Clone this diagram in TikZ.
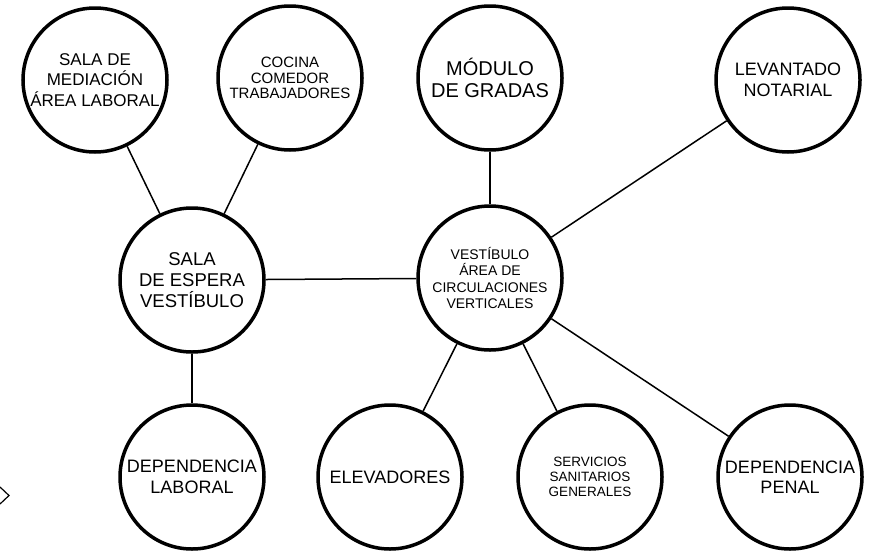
\documentclass[tikz,border=0pt]{standalone}
\usepackage{fontspec}
\setmainfont{Liberation Sans}
\usepackage{tikz}
\tikzset{
  espacio/.style={circle,draw,line width=3.5pt,minimum size=144pt,inner sep=0pt,align=center,text=black},
  enlace/.style={line width=1.5pt}
}
\def\letragrande{\fontsize{18}{20.5}\selectfont}
\def\letramedia{\fontsize{17}{20.5}\selectfont}
\def\letrachica{\fontsize{13.5}{15}\selectfont}

\begin{document}
\begin{tikzpicture}[x=1pt,y=-1pt]
   \useasboundingbox (0,0) rectangle (869,552);
      \node[espacio,font=\letramedia] (mediacion) at (95,80) {SALA DE\\ MEDIACIÓN\\ ÁREA LABORAL};
      \node[espacio,font=\fontsize{15}{15.5}\selectfont] (cocina) at (290,78) {COCINA\\ COMEDOR\\ TRABAJADORES};
      \node[espacio,font=\fontsize{20}{21.5}\selectfont] (gradas) at (490,78) {MÓDULO\\ DE GRADAS};
      \node[espacio,font=\fontsize{18}{20.5}\selectfont] (notarial) at (788,80) {LEVANTADO\\ NOTARIAL};
      \node[espacio,font=\fontsize{18.5}{21}\selectfont] (espera) at (192,280) {SALA\\ DE ESPERA\\ VESTÍBULO};
      \node[espacio,font=\fontsize{14}{16.5}\selectfont] (vestibulo) at (490,278) {VESTÍBULO\\ ÁREA DE\\ CIRCULACIONES\\ VERTICALES};
      \node[espacio,font=\letragrande] (laboral) at (192,477) {DEPENDENCIA\\ LABORAL};
      \node[espacio,font=\letragrande] (elevadores) at (390,477) {ELEVADORES};
      \node[espacio,font=\letrachica] (sanitarios) at (590,477) {SERVICIOS\\ SANITARIOS\\ GENERALES};
      \node[espacio,font=\letragrande] (penal) at (790,477) {DEPENDENCIA\\ PENAL};
      % conexiones
      \draw[enlace] (mediacion) -- (espera);
      \draw[enlace] (cocina) -- (espera);
      \draw[enlace] (espera) -- (laboral);
      \draw[enlace] (espera) -- (vestibulo);
      \draw[enlace] (gradas) -- (vestibulo);
      \draw[enlace] (notarial) -- (vestibulo);
      \draw[enlace] (vestibulo) -- (elevadores);
      \draw[enlace] (vestibulo) -- (sanitarios);
      \draw[enlace] (vestibulo) -- (penal);
      % resto de figura en el borde
      \draw[line width=1.2pt] (0,487) -- (9,495.5) -- (0,504);
\end{tikzpicture}
\end{document}
